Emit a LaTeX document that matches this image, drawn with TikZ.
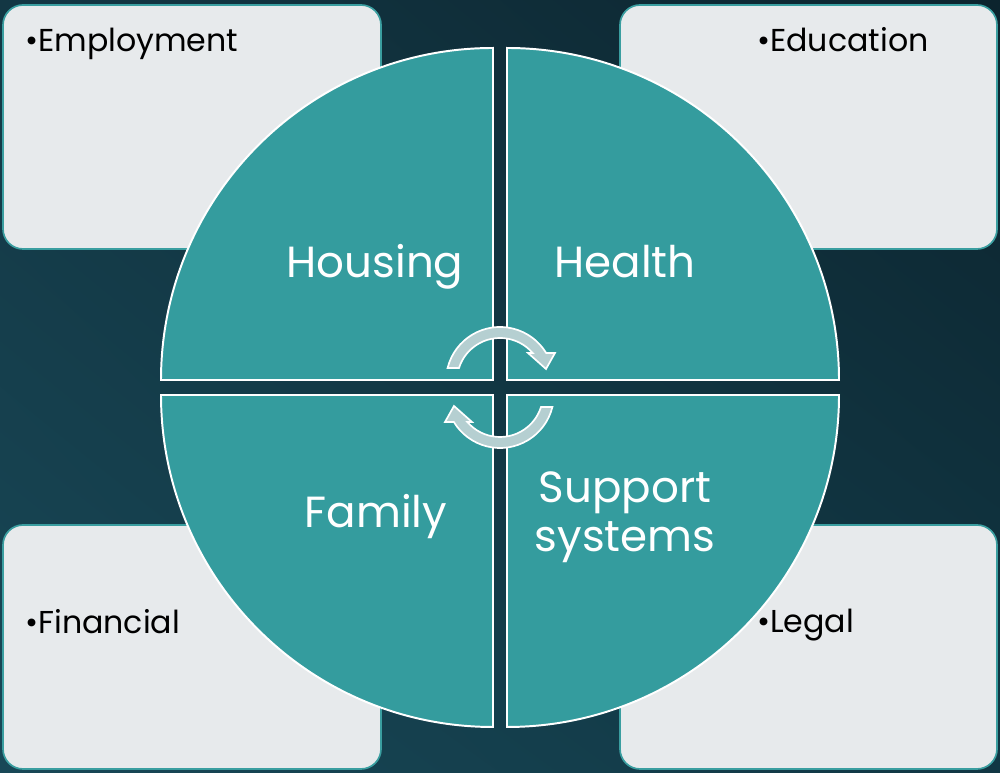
\documentclass[tikz,border=0pt]{standalone}
\usepackage{fontspec}
\setmainfont{Poppins}
\usepackage{tikz}
\usetikzlibrary{positioning,shadings}

\definecolor{bgll}{RGB}{24,72,87}
\definecolor{bgul}{RGB}{19,55,68}
\definecolor{bglr}{RGB}{17,55,68}
\definecolor{bgur}{RGB}{12,36,46}
\definecolor{quadfill}{RGB}{52,156,158}
\definecolor{boxfill}{RGB}{231,234,236}
\definecolor{boxline}{RGB}{58,158,160}
\definecolor{arrowfill}{RGB}{181,207,209}

\begin{document}
\begin{tikzpicture}[x=0.025cm,y=0.025cm,node font=\fontsize{22.5}{27}\selectfont]
	\tikzstyle{topic box}=[draw=boxline,line width=1.2pt,fill=boxfill,rounded corners=0.5cm]
	\tikzstyle{topic text}=[anchor=base west,inner sep=0pt]
	\tikzstyle{quadrant}=[draw=white,line width=1.4pt,fill=quadfill]
	\tikzstyle{quadrant text}=[text=white,font=\fontsize{31}{35}\selectfont,align=center,anchor=base,inner sep=0pt]
	\tikzstyle{cycle arrow}=[draw=white,line width=1.2pt,fill=arrowfill,line join=miter]
	
	\shade[upper left=bgul,upper right=bgur,lower left=bgll,lower right=bglr] (0,0) rectangle (1000,773);
	
	% corner boxes
	\draw[topic box] (3,524) rectangle (381,768);
	\draw[topic box] (620,524) rectangle (997,768);
	\draw[topic box] (3,4) rectangle (381,248);
	\draw[topic box] (620,4) rectangle (997,248);
	
	\node[topic text] (employment) at (25,721) {\textbullet Employment};
	\node[topic text] (education)  at (757,721) {\textbullet Education};
	\node[topic text] (financial)  at (25,139) {\textbullet Financial};
	\node[topic text] (legal)      at (757,140) {\textbullet Legal};
	
	% quadrants
	\draw[quadrant] (493,393) -- (161,393) arc[start angle=180,end angle=90,radius=332] -- cycle;
	\draw[quadrant] (507,393) -- (507,725) arc[start angle=90,end angle=0,radius=332] -- cycle;
	\draw[quadrant] (493,378) -- (493,46) arc[start angle=270,end angle=180,radius=332] -- cycle;
	\draw[quadrant] (507,378) -- (839,378) arc[start angle=0,end angle=-90,radius=332] -- cycle;
	
	\node[quadrant text] (housing) at (375,495) {Housing};
	\node[quadrant text] (health)  at (625,495) {Health};
	\node[quadrant text] (family)  at (376,245) {Family};
	\node[quadrant text] (support) at (625,221) {Support\\systems};
	
	% cycle arrows
	\draw[cycle arrow,shift={(500,392)}] (166:54) arc[start angle=166,end angle=31.2,radius=54]
		-- (55,28) -- (46,12) -- (28,28) -- (40.7:43) arc[start angle=40.7,end angle=162.4,radius=43] -- cycle;
	\draw[cycle arrow,shift={(500,379)},rotate=180] (166:54) arc[start angle=166,end angle=31.2,radius=54]
		-- (55,28) -- (46,12) -- (28,28) -- (40.7:43) arc[start angle=40.7,end angle=162.4,radius=43] -- cycle;
\end{tikzpicture}
\end{document}
